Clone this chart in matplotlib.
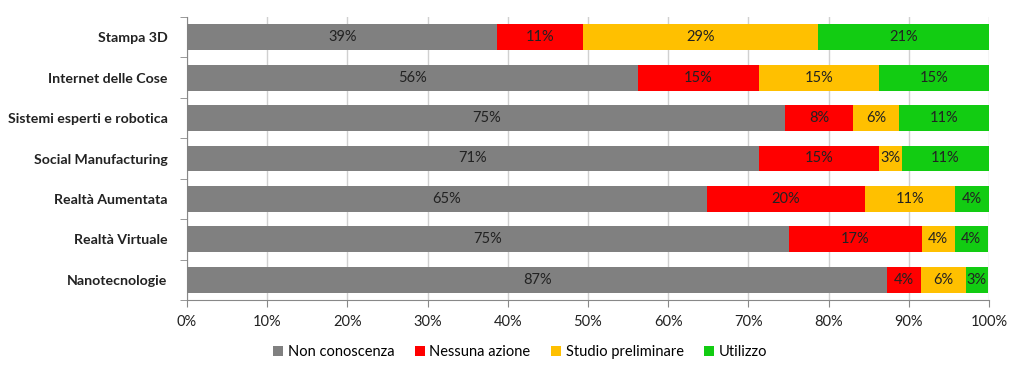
import matplotlib
matplotlib.use("Agg")
import matplotlib.pyplot as plt
import numpy as np

categories = ["Stampa 3D", "Internet delle Cose", "Sistemi esperti e robotica",
              "Social Manufacturing", "Realtà Aumentata", "Realtà Virtuale", "Nanotecnologie"]
series = ["Non conoscenza", "Nessuna azione", "Studio preliminare", "Utilizzo"]

non_conoscenza = [38.7, 56.2, 74.6, 71.3, 64.8, 75.0, 87.3]
nessuna_azione = [10.7, 15.1, 8.5, 15.0, 19.8, 16.6, 4.2]
studio_prelim = [29.3, 15.0, 5.7, 2.8, 11.2, 4.1, 5.6]
utilizzo = [21.3, 13.7, 11.2, 10.9, 4.2, 4.2, 2.8]

labels_nc = ["39%", "56%", "75%", "71%", "65%", "75%", "87%"]
labels_na = ["11%", "15%", "8%", "15%", "20%", "17%", "4%"]
labels_sp = ["29%", "15%", "6%", "3%", "11%", "4%", "6%"]
labels_ut = ["21%", "15%", "11%", "11%", "4%", "4%", "3%"]

colors = ["#808080", "#FF0000", "#FFC000", "#12CC12"]

plt.rcParams['font.family'] = ['Lato', 'DejaVu Sans']

fig = plt.figure(figsize=(10.24, 3.76), dpi=100)
ax = fig.add_axes([187/1024, 1-300/376, (989-187)/1024, (300-17)/376])

y = np.arange(len(categories))
left = np.zeros(len(categories))
data = [non_conoscenza, nessuna_azione, studio_prelim, utilizzo]
labs = [labels_nc, labels_na, labels_sp, labels_ut]
for vals, lab, col, name in zip(data, labs, colors, series):
    vals = np.array(vals)
    ax.barh(y, vals, left=left, height=0.64, color=col, label=name, zorder=3)
    for yi, l, v, t in zip(y, left, vals, lab):
        ax.text(l + v/2, yi, t, ha='center', va='center', fontsize=10.5, color='#222222', zorder=4)
    left = left + vals

ax.set_xlim(0, 100)
ax.set_ylim(len(categories) - 0.5, -0.5)
ax.set_xticks(np.arange(0, 101, 10))
ax.set_xticklabels([f"{v}%" for v in range(0, 101, 10)], fontsize=10.5, color='#222222')
ax.set_yticks(y)
ax.set_yticklabels(categories, fontsize=10.2, fontweight='bold', color='#222222')
ax.tick_params(axis='y', length=0, pad=14)
ax.set_yticks(np.arange(-0.5, len(categories) + 0.5, 1), minor=True)
ax.tick_params(axis='y', which='minor', length=5, color='#888888')
ax.tick_params(axis='x', length=5, color='#888888', pad=6)
ax.grid(axis='x', color='#D0D0D0', linewidth=1, zorder=0)
for s in ['top', 'right']:
    ax.spines[s].set_visible(False)
for s in ['left', 'bottom']:
    ax.spines[s].set_color('#888888')

handles, lbls = ax.get_legend_handles_labels()
fig.legend(handles, lbls, loc='center', bbox_to_anchor=(0.508, 0.063), ncol=4, frameon=False,
           fontsize=10.5, handlelength=0.7, handleheight=0.7, handletextpad=0.3, columnspacing=1.4)

fig.savefig("out.png", dpi=100)
